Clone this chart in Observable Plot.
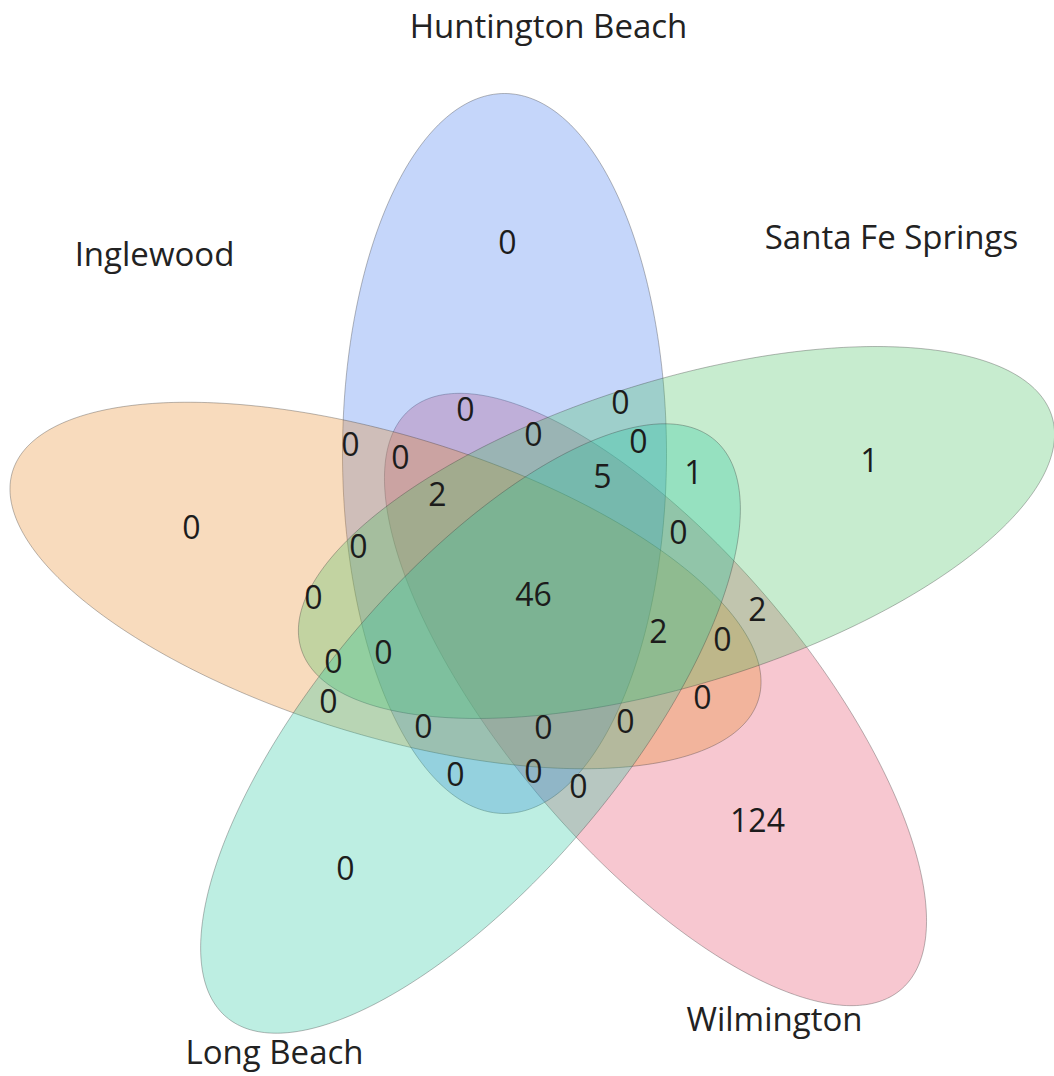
<!DOCTYPE html>
<html>
<head>
<meta charset="utf-8">
<script src="https://cdn.jsdelivr.net/npm/d3@7"></script>
<script src="https://cdn.jsdelivr.net/npm/@observablehq/plot@0.6"></script>
<style>
  html, body { margin: 0; padding: 0; background: #ffffff; }
  #chart svg { display: block; }
</style>
</head>
<body>
<div id="chart"></div>
<script>
// ---- DATA ----
const setKeys  = ["H", "S", "W", "L", "I"];
const setNames = ["Huntington Beach", "Santa Fe Springs", "Wilmington", "Long Beach", "Inglewood"];

// region membership (set keys joined by "&") and its count
const regionKeys = [
  "H", "S", "W", "L", "I",
  "H&W", "H&S", "H&I", "H&W&I", "H&S&W", "H&S&L", "H&S&W&I", "H&S&W&L",
  "S&L", "H&S&I", "S&W&L", "H&S&W&L&I", "S&I", "S&W", "S&W&L&I", "S&W&I",
  "S&L&I", "H&S&L&I", "L&I", "W&I", "H&L&I", "H&W&L&I", "W&L&I", "H&L", "H&W&L", "W&L"
];
const regionCounts = [
  0, 1, 124, 0, 0,
  0, 0, 0, 0, 0, 0, 2, 5,
  1, 0, 0, 46, 0, 2, 2, 0,
  0, 0, 0, 0, 0, 0, 0, 0, 0, 0
];

// ---- LAYOUT (geometry & styling, not data) ----
const W = 1054, Hgt = 1076;
const shapes = {
  H: {cx: 504, cy: 453, a: 360, b: 162, rot: 90},
  S: {cx: 676, cy: 532, a: 393, b: 152, rot: -17.2},
  W: {cx: 655, cy: 699, a: 380, b: 151, rot: 49.8},
  L: {cx: 470, cy: 728, a: 378, b: 151, rot: -49.8},
  I: {cx: 385, cy: 585, a: 390, b: 150, rot: 17}
};
const colors = {H: "#3e76ee", S: "#44c05f", W: "#e44462", L: "#26c69e", I: "#e88726"};
const drawOrder = ["W", "H", "I", "S", "L"];
const fillAlpha = 0.3;

const setLabelPos = {
  H: [548, 27], S: [891, 238], W: [774, 1020], L: [274, 1053], I: [154, 255]
};
const regionLabelPos = {
  "H": [507, 243], "S": [869, 461], "W": [757, 821], "L": [345, 869], "I": [191, 528],
  "H&W": [465, 410], "H&S": [620, 403], "H&I": [350, 445], "H&W&I": [400, 458],
  "H&S&W": [533, 435], "H&S&L": [638, 442], "H&S&W&I": [437, 495], "H&S&W&L": [602, 477],
  "S&L": [693, 473], "H&S&I": [358, 547], "S&W&L": [678, 533], "H&S&W&L&I": [533, 595],
  "S&I": [313, 598], "S&W": [757, 610], "S&W&L&I": [658, 632], "S&W&I": [722, 640],
  "S&L&I": [333, 662], "H&S&L&I": [383, 653], "L&I": [328, 702], "W&I": [702, 698],
  "H&L&I": [423, 727], "H&W&L&I": [543, 728], "W&L&I": [625, 722], "H&L": [455, 775],
  "H&W&L": [533, 772], "W&L": [578, 787]
};

function ellipsePoints(s) {
  const r = s.rot * Math.PI / 180, c = Math.cos(r), sn = Math.sin(r);
  const pts = [];
  for (let i = 0; i < 360; i++) {
    const t = i * Math.PI / 180;
    const u = s.a * Math.cos(t), v = s.b * Math.sin(t);
    pts.push({x: s.cx + u * c - v * sn, y: s.cy + u * sn + v * c});
  }
  return pts;
}

const regionData = regionKeys.map((k, i) => ({key: k, count: regionCounts[i], x: regionLabelPos[k][0], y: regionLabelPos[k][1]}));
const setLabelData = setKeys.map((k, i) => ({name: setNames[i], x: setLabelPos[k][0], y: setLabelPos[k][1]}));

const font = "'Open Sans', 'Noto Sans', sans-serif";

const marks = drawOrder.map(k => Plot.line(ellipsePoints(shapes[k]), {
  x: "x", y: "y", curve: "linear-closed",
  fill: colors[k], fillOpacity: fillAlpha,
  stroke: "#3a3a3a", strokeOpacity: 0.35, strokeWidth: 1
}));

marks.push(Plot.text(regionData, {
  x: "x", y: "y", text: d => String(d.count),
  fontSize: 32, fontFamily: font, fill: "#1c1c1c"
}));
marks.push(Plot.text(setLabelData, {
  x: "x", y: "y", text: "name",
  fontSize: 33, fontFamily: font, fill: "#222"
}));

const chart = Plot.plot({
  width: W, height: Hgt,
  margin: 0,
  style: {background: "#ffffff"},
  x: {domain: [0, W], range: [0, W], axis: null},
  y: {domain: [0, Hgt], range: [0, Hgt], axis: null},
  marks
});
document.getElementById("chart").appendChild(chart);
</script>
</body>
</html>
